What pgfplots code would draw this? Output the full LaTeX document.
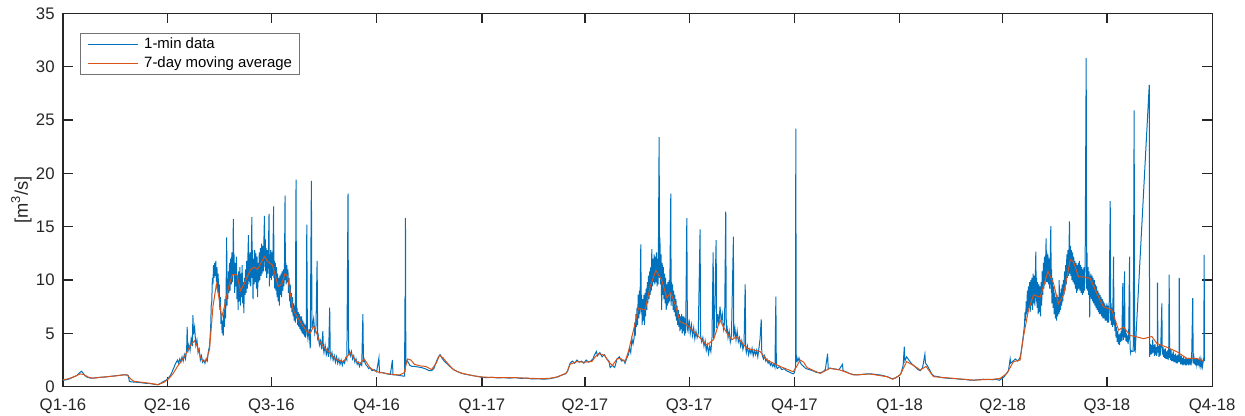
\documentclass[border=0pt]{standalone}
\usepackage{fontspec}
\setmainfont{Liberation Sans}
\usepackage{pgfplots}
\pgfplotsset{compat=1.18}
\definecolor{mblue}{rgb}{0,0.447,0.741}
\definecolor{morange}{rgb}{0.850,0.325,0.098}
\definecolor{mgray}{rgb}{0.15,0.15,0.15}
\begin{document}
\begin{tikzpicture}
\useasboundingbox (0,0) rectangle (622.5bp,208bp);
\begin{axis}[
 at={(31.5bp,14.65bp)}, anchor=south west,
 width=574.6bp, height=186.7bp, scale only axis,
 xmin=0, xmax=1004, ymin=0, ymax=35,
 xtick={0,91,182,274,366,456,547,639,731,821,912,1004},
 xticklabels={Q1-16,Q2-16,Q3-16,Q4-16,Q1-17,Q2-17,Q3-17,Q4-17,Q1-18,Q2-18,Q3-18,Q4-18},
 ytick={0,5,...,35},
 tick align=inside, tick pos=both,
 major tick length=5bp,
 axis line style={mgray, line width=0.6bp},
 every tick/.style={mgray, line width=0.6bp},
 ticklabel style={font=\fontsize{8.4}{10}\selectfont, text=mgray},
 xticklabel style={inner sep=0pt, yshift=-5.7bp},
 yticklabel style={inner sep=0pt, xshift=-4bp},
 /pgf/number format/assume math mode=true,
 ylabel={[m\textsuperscript{3}/s]},
 every axis y label/.style={at={(axis description cs:-0.027,0.5)}, rotate=90, anchor=south, inner sep=0pt, font=\fontsize{9.2}{11}\selectfont, text=mgray},
 legend style={at={(0,1)}, anchor=north west, xshift=8.5bp, yshift=-9.7bp, draw=black!55, line width=0.5bp, font=\fontsize{7.5}{9}\selectfont, inner xsep=3.65bp, inner ysep=2.2bp, row sep=1.9bp, column sep=3bp, nodes={inner sep=0pt, text height=5.6bp, text depth=1.6bp}, cells={anchor=west}},
 legend cell align=left,
 legend image code/.code={\draw[#1, line width=0.5bp] (0bp,0bp) -- (24.7bp,0bp);},
]
\addplot[mblue, line width=0.5bp] coordinates {
(0,0.6)(3,0.65)(6,0.75)(9,0.9)(12,1.05)(14,1.25)(16,1.45)(17,1.35)(19,1.05)(21,0.9)(24,0.8)(28,0.82)(32,0.88)(36,0.9)(40,0.95)(44,1.0)(48,1.05)(52,1.1)(55,1.12)(57,1.05)(58,0.5)(60,0.45)(64,0.42)(68,0.38)(72,0.32)(76,0.3)(80,0.22)(83,0.18)(85,0.3)(88,0.5)(90,0.6)(92,0.8)(94,1.1)
(95,1.3)(96,1.6)(97,1.8)(98,2.1)(99,2.3)(100,2.5)(101,2.2)(102,2.6)(103,2.3)(104,2.8)(105,2.4)(106,3.0)(107,2.6)(108,3.4)(108.5,5.6)(109,3.2)(110,3.9)(111,3.4)(112,4.5)(113,3.8)(113.5,6.7)(114,4.9)(115,5.6)(116,3.9)(117,4.4)(118,3.2)(119,3.5)(120,2.5)(121,2.9)(122,2.3)(123,2.5)(124,2.2)(125,2.6)(126,2.4)(127,3.3)(128,3.8)(129,5.5)(129.5,7.6)(130,8.0)(130.5,10.2)(131,9.6)(131.5,11.4)(132,10.2)(132.5,11.6)(133,10.4)(133.5,11.8)(134,9.8)(134.5,11.2)(135,9.2)(135.5,10.6)(136,8.8)(136.5,9.6)
(137,7.2)(137.5,8.4)(138,5.9)(138.5,6.8)(139,5.0)(139.5,6.2)(140,4.8)(140.5,7.0)(141,5.6)(141.5,8.2)(142,6.4)(142.5,9.0)(143,14.0)(143.3,7.6)(143.7,10.0)(144,8.2)(144.5,10.8)(145,8.8)(145.5,11.6)(146,9.0)(146.5,12.0)(147,9.6)(147.5,12.6)(148,9.8)(148.5,11.8)(148.8,15.7)(149.2,10.5)(149.5,12.4)(150,8.8)(150.5,11.6)(151,9.4)(151.5,12.2)(152,8.2)(152.5,10.4)(153,7.2)(153.5,10.8)(154,8.0)(154.5,11.2)(155,7.6)(155.5,10.6)(156,8.4)(156.5,11.4)(157,7.8)(157.5,9.8)(158,6.9)(158.5,10.2)(159,8.6)(159.5,11.0)(160,8.8)(160.5,11.8)(161,9.2)(161.5,12.0)(162,14.2)(162.3,9.6)(162.7,12.4)(163,9.8)(163.5,12.6)(164,9.4)(164.5,12.2)(165,15.9)(165.3,10.2)(165.7,12.8)(166,8.2)(166.5,12.0)(167,9.6)(167.5,12.8)(168,9.8)(168.5,12.5)(169,9.2)(169.5,12.2)(170,8.4)(170.5,11.6)(171,9.8)(171.5,12.6)(172,10.0)(172.5,13.0)(173,10.4)(173.5,13.4)(174,10.6)(174.5,13.2)(175,10.8)(175.5,13.6)(176,16.0)(176.3,11.2)(176.7,13.8)(177,10.8)(177.5,13.0)(178,10.2)(178.5,12.8)(179,10.6)(179.5,13.0)(180,16.2)(180.3,9.4)(180.7,12.4)(181,10.2)(181.5,12.8)(182,10.0)(182.5,12.6)(183,10.4)(183.5,12.9)(184,16.9)(184.3,10.2)(184.7,11.8)(185,9.2)(185.5,11.6)(186,9.0)(186.5,11.2)(187,8.4)(187.5,10.6)(188,8.0)(188.5,10.2)(189,7.6)(189.5,10.4)(190,8.6)(190.5,10.6)(191,8.4)(191.5,10.8)(192,9.0)(192.5,11.0)(193,9.4)(193.5,11.4)(194,17.9)(194.3,10.0)(194.7,11.6)(195,9.6)(195.5,11.4)(196,9.8)(196.5,11.0)(197,8.8)(197.5,10.2)(198,8.0)(198.5,9.6)(199,7.4)(199.5,8.8)(200,7.0)(200.5,8.4)(201,6.6)(201.5,7.8)(202,6.2)(202.5,7.6)(203,6.0)(203.6,19.4)(204,6.4)(204.5,7.4)(205,5.8)(205.5,7.0)(206,5.6)(206.5,6.8)(207,5.4)(207.5,6.6)(208,5.2)(208.5,6.6)(209,5.0)(209.5,6.2)(210,4.9)(210.5,6.0)(211,4.7)(211.5,5.8)(212,4.6)(212.5,5.6)
(213,15.2)(213.5,5.0)(214,4.5)(215,5.4)(216,3.6)(217,19.3)(217.5,5.5)(218,5.8)(219,6.4)(220,5.0)(221,5.5)(222,11.8)(222.5,4.6)(223,4.8)(224,3.9)(225,4.3)(226,3.5)(227,5.2)(227.5,3.6)(228,3.2)(229,3.9)(230,3.0)(231,3.5)(232,2.8)(233,7.4)(233.5,3.1)(234,2.7)(235,3.2)(236,2.5)(237,2.9)(238,2.3)(239,2.8)(240,2.2)(241,2.6)(242,2.1)(243,2.5)(244,2.0)(245,2.4)(246,2.2)(247,2.7)(248,2.5)(249,18.1)(249.5,3.0)(250,3.4)
(251,2.9)(252,3.3)(253,2.6)(254,2.9)(255,2.3)(256,2.6)(257,2.1)(258,2.3)(259,1.9)(260,2.2)(261,2.0)(262,6.8)(262.5,2.3)(263,2.6)(264,2.2)(265,2.0)(266,1.9)(267,1.7)(268,1.8)(270,1.5)(272,1.6)(274,1.4)(276,2.7)(276.5,1.3)(278,1.35)(280,1.3)(283,1.2)(286,1.15)(287.8,2.5)(288.3,1.1)(291,1.1)(294,1.05)(297,1.0)(298.4,1.0)(298.8,8.5)(299,1.4)(299.2,15.8)(299.5,2.6)(300,2.3)(301,2.4)(302,2.2)(303,2.0)(305,1.9)
(307,1.9)(310,1.85)(313,1.8)(316,1.7)(318,1.6)(320,1.5)(322,1.5)(324,1.7)(326,2.3)(328,2.8)(329.5,3.0)(331,2.7)(333,2.4)(336,2.1)(339,1.8)(342,1.55)(346,1.35)(350,1.2)(355,1.1)(360,1.0)(365,0.9)(370,0.85)(375,0.88)(380,0.82)(385,0.85)(390,0.8)(395,0.85)(400,0.78)(405,0.8)(410,0.72)(415,0.75)(420,0.7)(425,0.75)(430,0.85)(433,0.95)(436,1.1)(439,1.2)(441,1.5)(443,2.2)(445,2.4)(447,2.2)(449,2.5)(451,2.3)(453,2.4)(455,2.2)(457,2.5)(459,2.3)(461,2.4)(463,2.6)(464,2.9)(466,3.3)(467,2.9)(469,3.2)(471,2.8)(473,3.0)(475,2.6)(477,2.4)(478,1.8)(480,2.0)(482,1.8)(484,2.6)(486,2.8)(488,2.4)(490,2.5)(491,2.2)(493,2.8)
(494,3.0)(495,3.6)(496,3.2)(497,4.5)(498,4.0)(499,4.6)(499.5,6.0)(500,4.8)(500.5,6.8)(501,5.6)(501.5,7.4)(502,5.8)(502.5,8.6)(503,6.4)(503.5,9.0)(504,6.8)(504.8,13.35)(505.2,7.0)(505.5,8.6)(506,5.8)(506.5,8.2)(507,6.2)(507.5,8.6)(508,5.8)(508.5,8.8)(509,6.6)(509.5,9.2)(510,7.2)(510.5,9.8)(511,7.8)(511.5,10.4)(512,8.2)(512.5,10.8)(513,8.6)(513.5,11.2)(514,9.0)(514.4,12.9)(515,9.4)(515.5,12.0)(516,9.8)(516.5,12.4)(517,9.6)(517.5,12.2)(518,9.8)(518.5,12.6)(519,9.4)(519.5,12.0)(520,9.6)(520.8,23.4)(521.2,10.2)(521.5,14.0)(522,9.6)(522.5,12.4)(523,7.2)(523.5,11.6)(524,8.6)(524.5,11.2)(525,8.2)(525.5,10.6)(526,7.8)(526.5,10.2)(527,7.2)(527.5,9.6)(528,7.6)(528.5,9.8)(529,7.8)(529.5,10.0)(530,8.0)(531,18.1)(531.3,7.6)(531.7,9.8)(532,8.0)(532.5,9.6)(533,7.2)(533.5,9.0)(534,7.0)(534.5,8.6)(535,6.6)(535.5,8.2)(536,6.2)(536.5,7.6)(537,5.8)(537.5,7.2)(538,5.6)(538.5,6.8)(539,5.2)(539.5,6.6)(540,5.4)(540.5,6.8)
(541,5.0)(541.5,6.6)(542,5.2)(542.5,6.6)(543,4.8)(543.5,6.4)(544,5.0)(545,15.8)(545.5,5.4)(546,5.2)(547,6.3)(548,5.0)(549,5.8)(550,4.8)(551,5.5)(552,4.5)(553,5.2)(554,4.6)(555,5.0)(556.6,14.75)(557,4.8)(558,4.2)(559,4.6)(560,3.8)(561,4.3)(562,3.4)(563,3.9)(564,3.1)(565,3.8)(566,3.3)(567,4.6)(568,12.6)(568.5,4.5)(569,5.2)(570.6,13.75)(571,5.5)(572,6.8)(573,5.8)(574,7.5)(575,6.2)(576,6.8)(577,5.4)(578,6.0)(579,16.4)(579.5,5.0)(580,5.8)(581,4.6)(582,5.2)(583,4.2)(584,4.8)(585.7,14.06)(586,4.6)(587,5.5)(588,4.4)(589,5.2)(590,4.2)
(591,4.6)(592,3.8)(593,4.3)(594,3.5)(595,4.0)(596,9.6)(596.5,3.6)(597,3.2)(598,3.8)(599,3.0)(600,3.5)(601,3.1)(602,3.6)(603,2.9)(604,3.4)(605,3.0)(606,3.4)(607,2.8)(608,3.6)(609,4.5)(610,6.3)(610.5,3.2)(611,2.9)(612,2.6)(613,2.9)(614,2.4)(615,2.6)(616,2.2)(617,2.4)(618,2.0)(619,2.2)(620,1.9)(621,2.1)(622,1.8)(622.8,8.45)(623.2,1.9)(624,1.7)(626,1.9)(628,1.6)(630,1.7)(632,1.5)(634,1.4)(636,1.3)(638,1.2)(639,1.3)(640,1.9)(640.2,24.2)(640.6,2.3)(641,2.8)(642,2.4)(643,2.7)(644,2.3)(645,2.1)(647,1.9)(649,1.7)(652,1.6)(655,1.5)(658,1.35)(661,1.3)(664,1.4)
(666,1.6)(668,3.1)(668.5,1.7)(670,1.75)(672,1.7)(675,1.65)(678,1.6)(681,2.1)(681.5,1.5)(684,1.4)(687,1.25)(690,1.15)(694,1.1)(698,1.15)(702,1.2)(706,1.2)(710,1.15)(714,1.1)(718,1.0)(721,0.9)(724,0.75)(727,0.8)(730,1.0)(732,1.2)(734,2.0)(735,3.75)(735.5,2.4)(737,2.8)(739,2.5)(741,2.2)(743,2.0)(745,1.8)(747,1.6)(749,1.5)(751,1.8)(753,3.05)(753.5,2.2)(755,2.0)(757,1.6)(759,1.2)(761,1.0)(764,0.95)(768,0.85)(772,0.8)(776,0.78)(780,0.75)(784,0.7)(788,0.68)(792,0.62)(796,0.6)(800,0.65)(804,0.7)(808,0.68)(812,0.65)(815,0.7)(818,0.6)(820,0.75)(822,0.9)
(824,1.2)(826,1.5)(827.5,2.6)(828,2.2)(830,2.4)(832,2.6)(834,2.4)(836,2.7)(837,3.2)(838,4.0)(839,4.8)(840,5.8)(840.5,7.0)(841,6.2)(841.5,8.0)(842,6.8)(842.5,9.0)(843,7.0)(843.5,9.4)(844,7.4)(844.5,9.8)(845,7.0)(845.5,10.0)(846,7.6)(846.5,10.2)(847,7.2)(847.5,10.6)(848,7.8)(848.5,10.4)(849,7.6)(849.9,12.65)(850.3,8.0)(850.5,10.2)(851,7.4)(851.5,9.8)(852,6.8)(852.5,9.6)(853,7.0)(853.5,9.4)(854,6.6)(854.5,9.8)(855,7.6)(855.5,10.8)(856,8.6)(856.5,11.6)(857,9.2)(857.5,12.2)(858,9.6)(858.9,13.9)(859.3,9.8)(859.5,12.6)(860,9.8)(860.5,12.4)(861,9.6)(861.5,12.0)(862,9.2)(863,15.06)(863.4,8.8)(863.7,11.0)(864,7.8)(864.5,10.2)(865,7.4)(865.5,9.4)(866,6.8)(866.5,8.8)(867,6.4)(867.5,8.4)(868,6.2)(868.5,8.6)(869,6.6)(869.5,8.4)(870,6.8)(870.3,10.0)(870.7,7.0)(871,8.8)(871.5,7.2)(872,9.2)(872.5,7.6)(873,9.6)(873.5,8.0)(874,10.0)(874.5,8.6)(875,10.8)(875.5,9.0)(876,11.4)(876.5,9.6)(877,12.4)(877.5,10.2)(878,12.8)(878.5,10.4)(879,13.6)(879.3,15.5)(879.7,10.6)(880,13.2)(880.5,10.4)
(881,12.8)(881.5,10.0)(882,12.6)(882.5,9.8)(883,12.2)(883.5,9.6)(884,11.8)(884.5,9.2)(885,11.6)(885.5,8.8)(886,11.4)(886.5,9.0)(887,11.6)(887.5,9.2)(888,11.8)(888.5,9.0)(889,11.4)(889.5,8.8)(890,11.2)(890.5,8.6)(891,11.0)(891.5,8.8)(892,11.2)(892.5,9.0)(893,11.4)(893.9,30.8)(894.3,9.2)(894.6,12.6)(895,9.0)(895.5,11.2)(896,8.6)(896.5,10.8)(897,6.5)(897.3,10.4)(897.7,8.4)(898,10.6)(898.5,8.2)(899,10.4)(899.5,8.0)(900,10.2)(900.5,7.8)(901,10.0)(901.5,7.6)(902,9.6)(902.5,7.4)(903,9.4)(903.5,7.2)(904,9.0)(904.5,7.0)(905,8.8)(905.5,6.8)(906,8.6)(906.5,6.8)(907,8.4)(907.5,6.6)(908,8.2)(908.5,6.4)(909,8.0)(909.5,6.4)(910,7.8)(910.5,6.2)(911,7.6)(911.5,6.2)(912,7.8)(912.5,6.0)(913,7.6)(913.5,6.0)(914,7.4)(914.9,17.4)(915.3,6.2)(915.6,7.8)(916,5.8)(916.5,7.4)(917,5.6)(917.8,12.2)(918.2,5.8)(918.5,7.0)(919,5.2)(919.5,6.2)(920,4.6)(920.5,5.6)(921,4.2)(921.5,5.2)(922,4.0)(922.5,4.9)(923,3.9)(923.5,5.0)(924,4.2)(924.5,5.2)(925,4.3)(925.9,9.7)(926.3,4.4)(926.7,5.6)(927,4.6)(927.4,10.8)(927.8,4.6)(928.2,5.4)(928.6,4.3)(929,5.0)(929.5,4.2)(930,4.8)(930.5,4.0)(931,4.6)(931.8,12.2)(932.2,3.8)(932.6,3.2)(933,3.4)(934,3.3)(935,3.3)(935.8,25.9)(936.2,3.4)(936.7,3.3)(949,28.3)(949.3,2.8)
(950,4.0)(950.5,3.0)(951,3.9)(951.5,3.1)(952,4.4)(952.5,3.2)(953,3.9)(953.5,2.9)(954,4.0)(954.5,3.0)(955,3.7)(955.5,2.9)(956,3.8)(956.2,9.75)(956.6,3.2)(957,3.8)(957.5,2.8)(958,3.9)(958.5,2.9)(959,3.5)(960,7.8)(960.4,3.0)(961,3.7)(961.5,2.8)(962,3.5)(962.5,2.7)(963,3.6)(963.5,2.6)(964,3.3)(964.5,2.6)(965,3.4)(965.5,2.5)(966,3.2)(966.4,10.5)(966.8,2.7)(967,3.3)(967.5,2.5)(968,3.5)(968.5,2.4)(969,3.1)(969.5,2.4)(970,3.3)(970.5,2.3)(971,3.0)(971.5,2.3)(972,3.1)(972.5,2.2)(973,2.9)(973.5,2.2)(974,3.0)(974.5,2.3)(975,2.8)(975.2,10.2)(975.6,2.3)(976,2.9)(976.5,2.1)(977,2.9)(977.5,2.1)(978,2.7)(978.5,2.0)(979,2.8)(979.5,2.1)(980,2.6)(980.5,2.0)(981,2.7)(981.5,2.0)(982,2.6)(982.5,2.1)(983,2.7)(983.5,2.0)(984,2.6)(984.5,2.1)(985,2.7)(985.5,2.0)(986,2.5)(987,8.3)(987.4,2.2)(988,2.7)(988.5,2.1)(989,2.6)(989.5,2.0)(990,2.6)(990.5,2.1)(991,2.6)(991.5,2.0)(992,2.6)(992.5,2.1)(993,2.5)(993.5,2.0)(994,2.5)(994.5,2.0)(995,2.4)(995.5,1.9)(996,2.3)(996.6,2.5)(997,12.35)(997.2,2.4)
};
\addlegendentry{1-min data}
\addplot[morange, line width=0.5bp] coordinates {
(0,0.65)(5,0.75)(10,0.95)(15,1.2)(18,1.15)(22,0.9)(26,0.8)(35,0.9)(45,1.0)(52,1.1)(56,1.1)(59,0.75)(62,0.5)(70,0.4)(78,0.28)(83,0.2)(88,0.4)(92,0.7)(96,1.2)(100,1.9)(104,2.5)(108,3.2)(112,4.0)(115,4.3)(118,3.6)(120,2.8)(122,2.4)(125,2.4)(128,3.5)(131,7.5)(134,9.6)(136,8.5)(138.6,6.5)(141,7.5)(145,9.5)(148,10.5)(152,10.5)(155,9.0)(158,9.6)(161,10.3)(164,11.0)(167,11.2)(170,11.0)(173,11.6)(176,12.2)(179,11.7)(183,11.4)(186,10.2)(188,9.4)(191,9.6)(194,10.6)(196,10.4)(199,8.5)(201,7.2)(205,6.5)(209,5.8)(213,5.2)(216,5.0)(219,5.7)(221,5.2)(224,4.3)(228,3.7)(232,3.3)(236,2.8)(240,2.5)(245,2.35)(248,2.8)(251,3.2)(254,2.7)(257,2.3)(260,2.2)(263,2.6)(265,2.3)(268,1.8)(272,1.5)(276,1.35)(282,1.25)(288,1.15)(294,1.1)(298,1.3)(301,2.6)(304,2.5)(307,2.1)(312,1.95)(317,1.9)(322,1.6)(326,2.2)(329,2.95)(332,2.7)(336,2.2)(341,1.6)(347,1.3)(353,1.15)(360,1.0)(367,0.9)(380,0.85)(396,0.84)(410,0.78)(417,0.75)(425,0.78)(431,0.9)(436,1.1)(440,1.3)(443,2.1)(449,2.35)(455,2.3)(462,2.35)(465,2.8)(468,3.1)(473,2.95)(477,2.3)(480,2.0)(484,2.6)(487,2.65)(491,2.35)(494,3.3)(498.4,5.3)(502.7,7.35)(508.6,7.2)(513,9.4)(518,10.9)(523,10.0)(527.5,8.35)(531,8.8)(534.8,7.7)(539,6.1)(545,5.8)(553.7,4.9)(562.5,3.9)(568.3,4.4)(574,6.25)(578.5,5.3)(584.3,4.4)(588.7,4.7)(597.4,3.6)(609,3.3)(615,2.5)(626.5,1.9)(638,1.4)(641,1.9)(644,2.5)(647,2.3)(650,1.8)(656,1.5)(661.5,1.25)(670,1.72)(679,1.56)(690.6,1.1)(705,1.19)(719.8,0.94)(725,0.7)(731.4,1.1)(737,2.35)(743,2.0)(748.9,1.56)(754,1.9)(760.5,0.94)(778,0.78)(795.4,0.62)(813,0.7)(818.8,0.78)(824.6,1.25)(830.4,2.35)(836.2,2.5)(839.1,4.7)(843.5,7.2)(847.9,8.6)(853.7,8.4)(860.5,10.8)(865.3,9.7)(869.7,7.8)(874.1,8.6)(880,11.9)(882.8,11.7)(887.2,10.3)(891.6,10.3)(897.4,10.15)(903.2,8.75)(909,7.5)(916.3,7.2)(922.2,5.3)(926.5,5.6)(932.3,4.8)(938.2,4.67)(944,4.5)(951.3,4.7)(955.7,4.05)(964.4,3.7)(973.1,3.28)(981.9,2.65)(990.6,2.65)(996.4,2.4)
};
\addlegendentry{7-day moving average}
\end{axis}
\end{tikzpicture}
\end{document}
